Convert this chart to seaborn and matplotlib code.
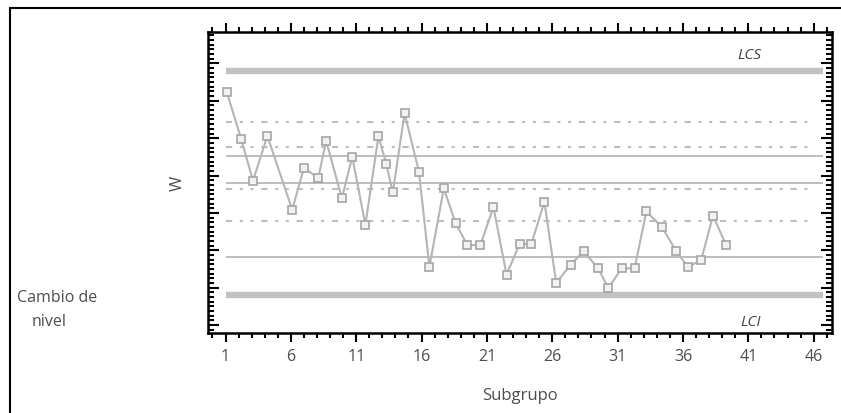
import matplotlib
matplotlib.use("Agg")
import matplotlib.pyplot as plt
from matplotlib.ticker import MultipleLocator, FixedLocator
from matplotlib.lines import Line2D
import seaborn as sns
import pandas as pd

# ---- data ----
subgroup = [1.1, 2.2, 3.1, 4.2, 6.1, 7.0, 8.1, 8.7, 9.9, 10.7,
            11.7, 12.7, 13.3, 13.8, 14.7, 15.8, 16.6, 17.7, 18.6, 19.5,
            20.5, 21.5, 22.5, 23.5, 24.4, 25.4, 26.3, 27.4, 28.4, 29.5,
            30.3, 31.3, 32.3, 33.2, 34.4, 35.5, 36.4, 37.4, 38.3, 39.3]
w_values = [6.23, 4.98, 3.86, 5.06, 3.09, 4.20, 3.94, 4.93, 3.40, 4.50,
            2.68, 5.05, 4.31, 3.55, 5.67, 4.10, 1.56, 3.66, 2.73, 2.14,
            2.14, 3.16, 1.35, 2.17, 2.17, 3.30, 1.13, 1.61, 1.98, 1.52,
            0.99, 1.52, 1.52, 3.04, 2.62, 1.97, 1.55, 1.75, 2.93, 2.14]
limit_values = [6.80, 0.81]            # LCS, LCI
limit_labels = ["LCS", "LCI"]
center_values = [4.53, 3.79, 1.83]     # solid lines
zone_values = [5.44, 4.77, 3.64, 2.79] # dashed lines
xtick_values = [1, 6, 11, 16, 21, 26, 31, 36, 41, 46]
line_start, line_end = 1.0, 46.7

df = pd.DataFrame({"Subgrupo": subgroup, "W": w_values})

sns.set_theme(style="white")
plt.rcParams["font.family"] = ["Open Sans", "DejaVu Sans"]
plt.rcParams["lines.scale_dashes"] = False

fig = plt.figure(figsize=(8.41, 4.14), dpi=100)
ax = fig.add_axes([208 / 841, 1 - 334 / 414, (831.7 - 208) / 841, (334 - 33) / 414])

grey_txt = "#4d4d4d"

# horizontal reference lines
ax.hlines(limit_values, line_start, line_end, colors="#c2c2c2", linewidth=4.6, zorder=1)
ax.hlines(center_values, line_start, line_end, colors="#bdbdbd", linewidth=1.4, zorder=1)
for v in zone_values:
    ax.plot([line_start, line_end - 0.6], [v, v], color="#bdbdbd", linewidth=1.5,
            dashes=(4.5, 5.5, 2.2, 5.5, 2.2, 5.5), zorder=1)

# data series
sns.lineplot(data=df, x="Subgrupo", y="W", ax=ax, color="#b5b5b5", linewidth=1.5,
             marker="s", markersize=6.3, markerfacecolor="#f2f2f2",
             markeredgecolor="#a5a5a5", markeredgewidth=1.2, zorder=3)

# limit labels
ax.text(41.1, 7.25, limit_labels[0], style="italic", ha="center", va="center",
        fontsize=11, color="#404040")
ax.text(41.2, 0.09, limit_labels[1], style="italic", ha="center", va="center",
        fontsize=11, color="#404040")

ax.set_xlim(-0.34, 47.38)
ax.set_ylim(-0.21, 7.84)

ax.xaxis.set_major_locator(FixedLocator(xtick_values))
ax.xaxis.set_minor_locator(MultipleLocator(1))
ax.yaxis.set_major_locator(MultipleLocator(1))
ax.yaxis.set_minor_locator(MultipleLocator(0.125))
ax.set_xticks(xtick_values)
ax.set_xticklabels([str(t) for t in xtick_values])

ax.tick_params(axis="x", which="both", direction="out", top=True, bottom=True,
               color="black", width=1.5, labelsize=11.5, labelcolor=grey_txt, pad=4)
ax.tick_params(axis="x", which="major", length=6.5)
ax.tick_params(axis="x", which="minor", length=3.5)
ax.tick_params(axis="y", which="both", direction="in", left=True, right=True,
               color="black", width=1.5, labelleft=False)
ax.tick_params(axis="y", which="major", length=8)
ax.tick_params(axis="y", which="minor", length=4)

for s in ax.spines.values():
    s.set_visible(True)
    s.set_color("black")
    s.set_linewidth(1.8)

ax.set_xlabel("Subgrupo", fontsize=12, color=grey_txt, va="center")
ax.xaxis.set_label_coords(0.5, -(396 - 334) / (334 - 33))
ax.set_ylabel("W", fontsize=12, color=grey_txt, va="center")
ax.yaxis.set_label_coords(-30 / 623.7, 0.5)

fig.text(17 / 841, 1 - 298 / 414, "Cambio de", fontsize=11.5, color=grey_txt,
         ha="left", va="center")
fig.text(32 / 841, 1 - 322 / 414, "nivel", fontsize=11.5, color=grey_txt,
         ha="left", va="center")

# outer frame (left and top edges)
fig.add_artist(Line2D([10 / 841, 10 / 841], [0, 1 - 9 / 414], transform=fig.transFigure,
                      color="black", linewidth=1.5))
fig.add_artist(Line2D([10 / 841, 1], [1 - 9 / 414, 1 - 9 / 414], transform=fig.transFigure,
                      color="black", linewidth=1.5))

fig.savefig("out.png", dpi=100)
